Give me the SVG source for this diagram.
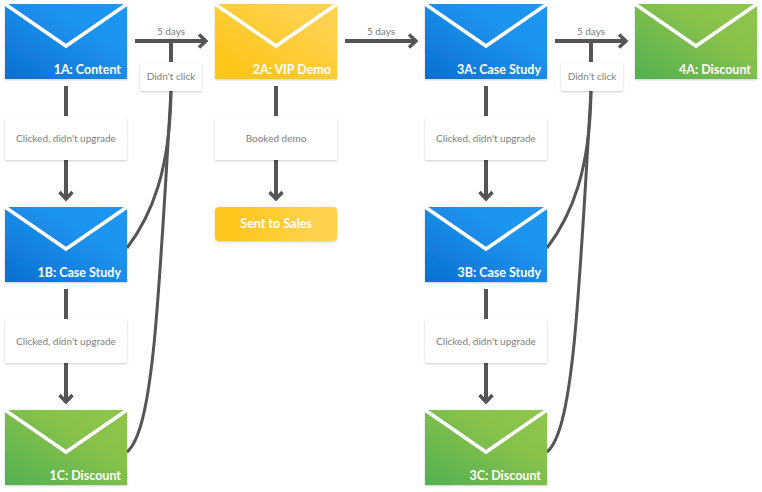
<svg xmlns="http://www.w3.org/2000/svg" width="762" height="492" viewBox="0 0 762 492">
<style>
text{font-family:"Lato","Open Sans",sans-serif}
.t{font-size:12.5px;font-weight:700;fill:#fff;text-anchor:end}
.l{font-size:10px;fill:#808080;text-anchor:middle}
.f{stroke:#fff;stroke-width:3.6;fill:none}
.c{stroke:#555;stroke-width:4;fill:none}
.k{stroke:#555;stroke-width:3;fill:none}
.w{fill:#fff;filter:url(#s)}
.e{filter:url(#s)}
</style>
<defs>
<linearGradient id="blue" x1="0" y1="1" x2="1" y2="0"><stop offset="0" stop-color="#0b6fd0"/><stop offset=".65" stop-color="#1e93ee"/><stop offset="1" stop-color="#2096f3"/></linearGradient>
<linearGradient id="green" x1="0" y1="1" x2="1" y2="0"><stop offset="0" stop-color="#52b050"/><stop offset=".65" stop-color="#88c24c"/><stop offset="1" stop-color="#8fc54e"/></linearGradient>
<linearGradient id="yellow" x1="0" y1="1" x2="1" y2="0"><stop offset=".2" stop-color="#ffc61e"/><stop offset=".8" stop-color="#ffd24d"/></linearGradient>
<linearGradient id="yellow2" x1="0" y1="0" x2="1" y2="0"><stop offset=".15" stop-color="#ffc61e"/><stop offset=".8" stop-color="#ffd24d"/></linearGradient>
<filter id="s" x="-10%" y="-10%" width="120%" height="125%"><feDropShadow dx="0" dy="1" stdDeviation="1.2" flood-color="#000" flood-opacity=".2"/></filter>
<path id="flap" class="f" d="M0 0L61 42L122 0"/>
<marker id="a" markerUnits="userSpaceOnUse" markerWidth="14" markerHeight="16" refX="9" refY="8" orient="auto"><path d="M2 1.5L9 8L2 14.5" fill="none" stroke="#555" stroke-width="3.4"/></marker>
</defs>
<g id="connectors">
<path class="c" d="M66 86V116"/><path class="c" d="M66 160V199" marker-end="url(#a)"/>
<path class="c" d="M66 289V319"/><path class="c" d="M66 363V402" marker-end="url(#a)"/>
<path class="c" d="M135 41H206" marker-end="url(#a)"/>
<path class="c" d="M171 41V62"/>
<path class="k" d="M127 248C152 215 170 170 171 91"/>
<path class="k" d="M127 452C152 430 158 320 171 91"/>
<path class="c" d="M276 86V116"/><path class="c" d="M276 160V199" marker-end="url(#a)"/>
<path class="c" d="M345 41H416" marker-end="url(#a)"/>
<path class="c" d="M486 86V116"/><path class="c" d="M486 160V199" marker-end="url(#a)"/>
<path class="c" d="M486 289V319"/><path class="c" d="M486 363V402" marker-end="url(#a)"/>
<path class="c" d="M555 41H626" marker-end="url(#a)"/>
<path class="c" d="M591 41V62"/>
<path class="k" d="M547 248C572 215 590 170 591 91"/>
<path class="k" d="M547 452C572 430 578 320 591 91"/>
</g>
<g id="label-5days-1"><text class="l" x="171" y="35">5 days</text></g>
<g id="label-5days-2"><text class="l" x="381" y="35">5 days</text></g>
<g id="label-5days-3"><text class="l" x="591" y="35">5 days</text></g>
<g id="label-didnt-click-1"><rect class="w" x="140" y="63" width="62" height="28"/><text class="l" x="171" y="80">Didn't click</text></g>
<g id="label-didnt-click-2"><rect class="w" x="561" y="63" width="62" height="28"/><text class="l" x="592" y="80">Didn't click</text></g>
<g id="label-1a"><rect class="w" x="5" y="117" width="122" height="43"/><text class="l" x="66" y="142">Clicked, didn't upgrade</text></g>
<g id="label-1b"><rect class="w" x="5" y="320" width="122" height="43"/><text class="l" x="66" y="345">Clicked, didn't upgrade</text></g>
<g id="label-2a"><rect class="w" x="215" y="117" width="122" height="43"/><text class="l" x="276" y="142">Booked demo</text></g>
<g id="label-3a"><rect class="w" x="425" y="117" width="122" height="43"/><text class="l" x="486" y="142">Clicked, didn't upgrade</text></g>
<g id="label-3b"><rect class="w" x="425" y="320" width="122" height="43"/><text class="l" x="486" y="345">Clicked, didn't upgrade</text></g>
<g id="node-1a" transform="translate(5 4)"><rect class="e" width="122" height="75" fill="url(#blue)"/><use href="#flap"/><text class="t" x="116" y="70">1A: Content</text></g>
<g id="node-1b" transform="translate(5 207)"><rect class="e" width="122" height="75" fill="url(#blue)"/><use href="#flap"/><text class="t" x="116" y="70">1B: Case Study</text></g>
<g id="node-1c" transform="translate(5 410)"><rect class="e" width="122" height="75" fill="url(#green)"/><use href="#flap"/><text class="t" x="116" y="70">1C: Discount</text></g>
<g id="node-2a" transform="translate(215 4)"><rect class="e" width="122" height="75" fill="url(#yellow)"/><use href="#flap"/><text class="t" x="116" y="70">2A: VIP Demo</text></g>
<g id="node-sales"><rect class="e" x="215" y="207" width="122" height="34" rx="4" fill="url(#yellow2)"/><text class="t" x="276" y="228" style="text-anchor:middle">Sent to Sales</text></g>
<g id="node-3a" transform="translate(425 4)"><rect class="e" width="122" height="75" fill="url(#blue)"/><use href="#flap"/><text class="t" x="116" y="70">3A: Case Study</text></g>
<g id="node-3b" transform="translate(425 207)"><rect class="e" width="122" height="75" fill="url(#blue)"/><use href="#flap"/><text class="t" x="116" y="70">3B: Case Study</text></g>
<g id="node-3c" transform="translate(425 410)"><rect class="e" width="122" height="75" fill="url(#green)"/><use href="#flap"/><text class="t" x="116" y="70">3C: Discount</text></g>
<g id="node-4a" transform="translate(635 4)"><rect class="e" width="122" height="75" fill="url(#green)"/><use href="#flap"/><text class="t" x="116" y="70">4A: Discount</text></g>
</svg>
